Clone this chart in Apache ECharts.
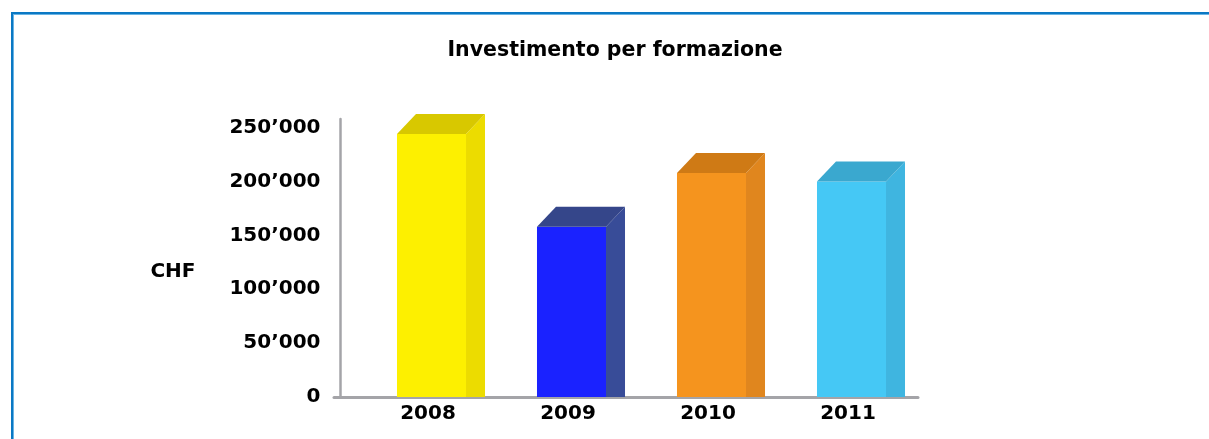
<!DOCTYPE html>
<html>
<head>
<meta charset="utf-8">
<script src="https://cdn.jsdelivr.net/npm/echarts@6/dist/echarts.min.js"></script>
<style>
  html, body { margin: 0; padding: 0; background: #fff; }
  #chart { position: absolute; left: 0; top: 0; width: 1209px; height: 439px; }
  #frame { position: absolute; left: 11px; top: 12px; right: 0; bottom: 0; border-top: 2px solid #0a78c4; border-left: 2px solid #0a78c4; }
  #frame2 { position: absolute; left: 13px; top: 14px; right: 0; bottom: 0; border-top: 1px solid #6ab4e4; border-left: 1px solid #6ab4e4; }
</style>
</head>
<body>
<div id="chart"></div>
<div id="frame"></div>
<div id="frame2"></div>
<script>
const categories = ['2008', '2009', '2010', '2011'];
const values = [244000, 158000, 208000, 200000];
const frontColors = ['#fdf000', '#1a22ff', '#f5941e', '#45c8f5'];
const sideColors = ['#ecdc00', '#384c98', '#e0861e', '#3fb5e0'];
const topColors = ['#d8c800', '#35468a', '#cf7a15', '#3aa8cf'];

const chart = echarts.init(document.getElementById('chart'));

// thousands with a typographic apostrophe, like 250’000
const fmt = v => String(v).replace(/\B(?=(\d{3})+(?!\d))/g, '\u2019');

function renderItem(params, api) {
  const i = api.value(0);
  const top = api.coord([i, api.value(1)]);
  const base = api.coord([i, 0]);
  const bw = api.size([1, 0])[0] * 0.493;
  const x0 = top[0] - bw / 2 + 3.5;
  const x1 = x0 + bw;
  const dx = 19, dy = 20;
  return {
    type: 'group',
    children: [
      {
        type: 'rect',
        shape: { x: x0, y: top[1], width: bw, height: base[1] - top[1] },
        style: { fill: frontColors[i] }
      },
      {
        type: 'polygon',
        shape: { points: [[x1, top[1]], [x1 + dx, top[1] - dy], [x1 + dx, base[1]], [x1, base[1]]] },
        style: { fill: sideColors[i] }
      },
      {
        type: 'polygon',
        shape: { points: [[x0, top[1]], [x0 + dx, top[1] - dy], [x1 + dx, top[1] - dy], [x1, top[1]]] },
        style: { fill: topColors[i] }
      }
    ]
  };
}

const font = 'DejaVu Sans';

chart.setOption({
  animation: false,
  title: {
    text: 'Investimento per formazione',
    left: 610,
    top: 35,
    textAlign: 'center',
    textStyle: { fontFamily: font, fontSize: 20.5, fontWeight: 'bold', color: '#000' }
  },
  grid: [
    { left: 358, right: 291, top: 119, bottom: 42 },
    { left: 334, right: 291, top: 119, bottom: 42 }
  ],
  xAxis: [
    {
      type: 'category',
      data: categories,
      axisLine: { show: false },
      axisTick: { show: false },
      axisLabel: { margin: 7, color: '#000', fontFamily: font, fontSize: 20, fontWeight: 'bold' }
    },
    {
      gridIndex: 1,
      type: 'value',
      min: 0,
      max: 1,
      axisLine: { show: true, lineStyle: { color: '#a4a4a8', width: 3 } },
      axisTick: { show: false },
      axisLabel: { show: false },
      splitLine: { show: false }
    }
  ],
  yAxis: [
    {
      type: 'value',
      min: 0,
      max: 258000,
      interval: 50000,
      offset: 17.5,
      name: 'CHF',
      nameLocation: 'middle',
      nameRotate: 0,
      nameGap: 145,
      nameTextStyle: { color: '#000', fontFamily: font, fontSize: 20, fontWeight: 'bold', verticalAlign: 'top', padding: [4, 0, 0, 0] },
      axisLine: { show: true, lineStyle: { color: '#a4a4a8', width: 2.5 } },
      axisTick: { show: false },
      splitLine: { show: false },
      axisLabel: {
        margin: 20,
        showMaxLabel: false,
        color: '#000',
        fontFamily: font,
        fontSize: 20,
        fontWeight: 'bold',
        formatter: fmt
      }
    },
    { gridIndex: 1, type: 'value', show: false }
  ],
  series: [
    {
      type: 'custom',
      renderItem: renderItem,
      encode: { x: 0, y: 1 },
      data: categories.map((c, i) => [i, values[i]])
    }
  ]
});
</script>
</body>
</html>
